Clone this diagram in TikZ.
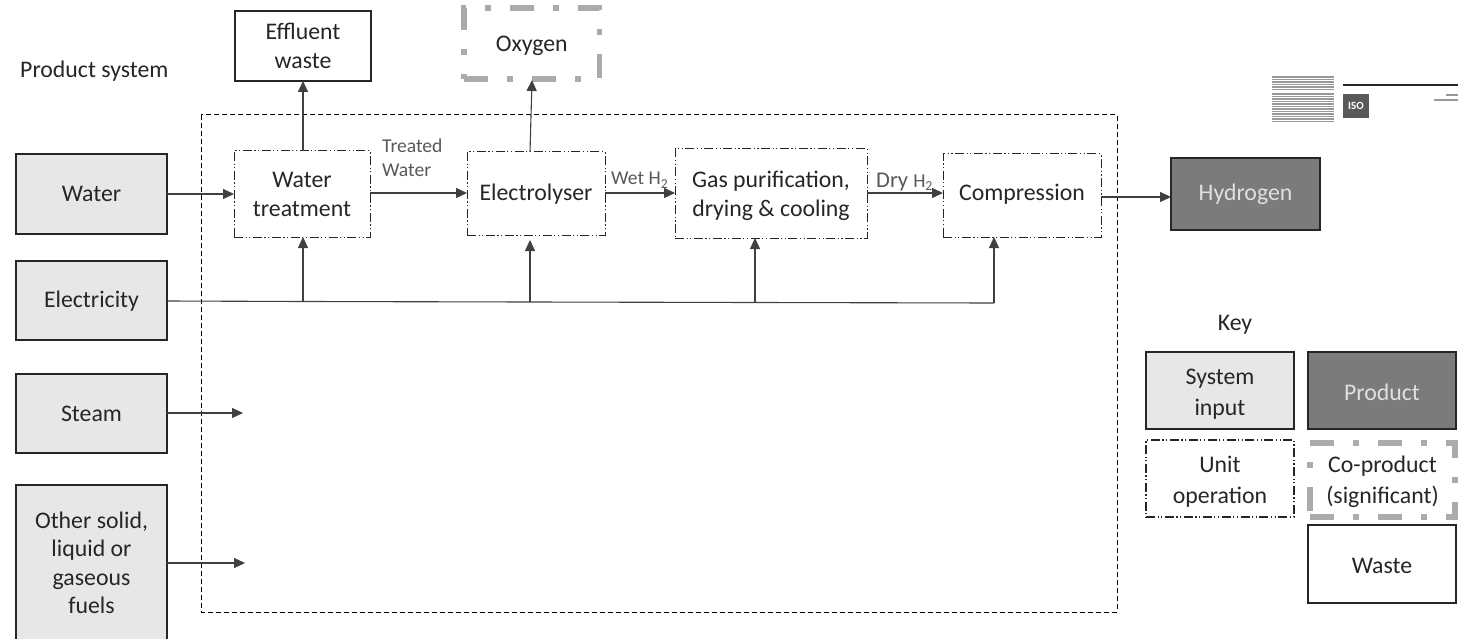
\documentclass[tikz,border=0pt]{standalone}
\usepackage{fontspec}
\setmainfont{Carlito}
\usetikzlibrary{arrows.meta}
\definecolor{inputgray}{HTML}{E7E7E7}
\definecolor{prodgray}{HTML}{7B7B7B}
\definecolor{coprod}{HTML}{ABABAB}
\definecolor{txt}{HTML}{262626}
\definecolor{lbl}{HTML}{595959}
\definecolor{arr}{HTML}{404040}
\newcommand{\dn}[2]{\raisebox{-#1pt}[\height][\depth]{#2}}
\tikzset{
 box/.style={draw=black!85,line width=1.1pt,inner sep=0pt,outer sep=0pt,text=txt,font=\fontsize{23.8}{29}\selectfont,align=center},
 keyfont/.style={font=\fontsize{23.8}{31}\selectfont},
 inputbox/.style={box,fill=inputgray},
 prodbox/.style={box,fill=prodgray,text=white!88!black},
 wastebox/.style={box,fill=white},
 unitbox/.style={box,line width=1pt,dash pattern=on 9pt off 2.5pt on 1.2pt off 2.5pt on 1.2pt off 2.5pt},
 coprodbox/.style={box,draw=coprod,line width=5.5pt,dash pattern=on 24pt off 19pt on 6pt off 19pt},
 flow/.style={draw=arr,line width=1.1pt,-{Triangle[length=11pt,width=10pt]}},
 plain/.style={draw=arr,line width=1.1pt},
 flowlbl/.style={text=lbl,font=\fontsize{19.6}{24.5}\selectfont,align=left,inner sep=0pt},
 title/.style={text=txt,font=\fontsize{23.8}{26}\selectfont,inner sep=0pt},
 boundary/.style={draw=black,line width=1pt,dash pattern=on 5pt off 3pt},
 fragline/.style={draw=black!40,line width=1.1pt},
}
\begin{document}
\begin{tikzpicture}[x=1pt,y=-1pt]
\useasboundingbox (0,0) rectangle (1458,639);
\fill[white] (0,0) rectangle (1458,639);
% system boundary
\draw[boundary] (201,115) rectangle (1117,612);
\node[title,anchor=west] (ps) at (20,71) {Product system};
% inputs
\node[inputbox,minimum width=151pt,minimum height=80pt] (water) at (91.5,194) {Water};
\node[inputbox,minimum width=151pt,minimum height=79pt] (elec) at (91.5,300.5) {\dn{1}{Electricity}};
\node[inputbox,minimum width=151pt,minimum height=79pt] (steam) at (91.5,413.5) {Steam};
\fill[inputgray] (16,485) rectangle (167,639);
\draw[black!85,line width=1.1pt] (16,639) -- (16,485) -- (167,485) -- (167,639);
\node[text=txt,font=\fontsize{23.8}{28.5}\selectfont,align=center,inner sep=0pt] (other) at (91.5,563) {Other solid,\\liquid or\\gaseous\\fuels};
\coordinate (otherE) at (167,563);
% outputs
\node[wastebox,minimum width=136pt,minimum height=70pt] (eff) at (303,46) {Effluent\\waste};
\node[coprodbox,minimum width=135.5pt,minimum height=71pt] (oxy) at (531.75,43.5) {\dn{2.5}{Oxygen}};
\node[prodbox,minimum width=149pt,minimum height=72pt] (hyd) at (1245.5,194) {Hydrogen};
% units
\node[unitbox,minimum width=136pt,minimum height=86pt] (wt) at (302,194) {Water\\treatment};
\node[unitbox,minimum width=138pt,minimum height=83pt] (ely) at (536,193.5) {\dn{1}{Electrolyser}};
\node[unitbox,minimum width=192pt,minimum height=89pt] (gas) at (771,193.5) {\dn{2}{Gas purification,}\\\dn{2}{drying \& cooling}};
\node[unitbox,minimum width=158pt,minimum height=83pt] (comp) at (1022,195.5) {\dn{-1.5}{Compression}};
% flows
\draw[flow] (water.east |- 0,194) -- (wt.west |- 0,194);
\draw[flow] (wt.east |- 0,193) -- (ely.west |- 0,193);
\draw[flow] (ely.east |- 0,193) -- (gas.west |- 0,193);
\draw[flow] (gas.east |- 0,193) -- (comp.west |- 0,193);
\draw[flow] (comp.east |- 0,197) -- (hyd.west |- 0,197);
\draw[flow] (303,151) -- (eff.south -| 303,0);
\draw[flow] (ely.north -| 530,0) -- (532,80);
% electricity bus
\coordinate (j1) at (303,301.5);
\coordinate (j2) at (530,302);
\coordinate (j3) at (755,302.5);
\coordinate (j4) at (994,303);
\draw[plain] (elec.east |- 0,301) -- (j1) -- (j2) -- (j3) -- (j4);
\draw[flow] (j1) -- (j1 |- wt.south);
\draw[flow] (j2) -- (530,240);
\draw[flow] (j3) -- (j3 |- gas.south);
\draw[flow] (j4) -- (j4 |- comp.south);
\coordinate (steamEnd) at (243,413);
\coordinate (otherEnd) at (245,563);
\draw[flow] (steam.east |- steamEnd) -- (steamEnd);
\draw[flow] (otherE) -- (otherEnd);
% flow labels
\node[flowlbl,anchor=base west] (tw) at (382,177) {Treated\\Water};
\node[flowlbl,anchor=base west] (wh) at (611,185) {Wet H\textsubscript{2}};
\node[flowlbl,anchor=base west,font=\fontsize{22.5}{24}\selectfont] (dh) at (876,187) {Dry {\fontsize{19.6}{24}\selectfont H\textsubscript{2}}};
% key
\node[title,anchor=center] (key) at (1235,325) {Key};
\node[inputbox,keyfont,minimum width=148pt,minimum height=77pt] (k1) at (1220,390.5) {\dn{3.5}{System}\\\dn{3.5}{input}};
\node[prodbox,minimum width=148pt,minimum height=77pt] (k2) at (1382,390.5) {\dn{2}{Product}};
\node[unitbox,keyfont,line width=1.2pt,minimum width=148pt,minimum height=77pt] (k3) at (1220,478.5) {\dn{3}{Unit}\\\dn{3}{operation}};
\node[coprodbox,keyfont,minimum width=145pt,minimum height=74pt] (k4) at (1382.5,480) {\dn{1.5}{Co-product}\\\dn{1.5}{(significant)}};
\node[wastebox,minimum width=148pt,minimum height=78pt] (k5) at (1382,564) {\dn{2}{Waste}};
% blurred pasted fragment
\foreach \yy in {77,79.5,82,84.5,87,89.5}{\draw[fragline] (1272,\yy) -- (1334,\yy);}
\foreach \yy in {94,96.5,...,122}{\draw[fragline] (1272,\yy) -- (1334,\yy);}
\draw[black!85,line width=1.6pt] (1343,85) -- (1458,85);
\node[fill=black!65,text=white,font=\bfseries\fontsize{11}{11}\selectfont,minimum width=26pt,minimum height=24pt,inner sep=0pt] (iso) at (1356,106) {ISO};
\draw[fragline] (1446,95) -- (1458,95);
\draw[fragline] (1434,100) -- (1458,100);
\end{tikzpicture}
\end{document}
